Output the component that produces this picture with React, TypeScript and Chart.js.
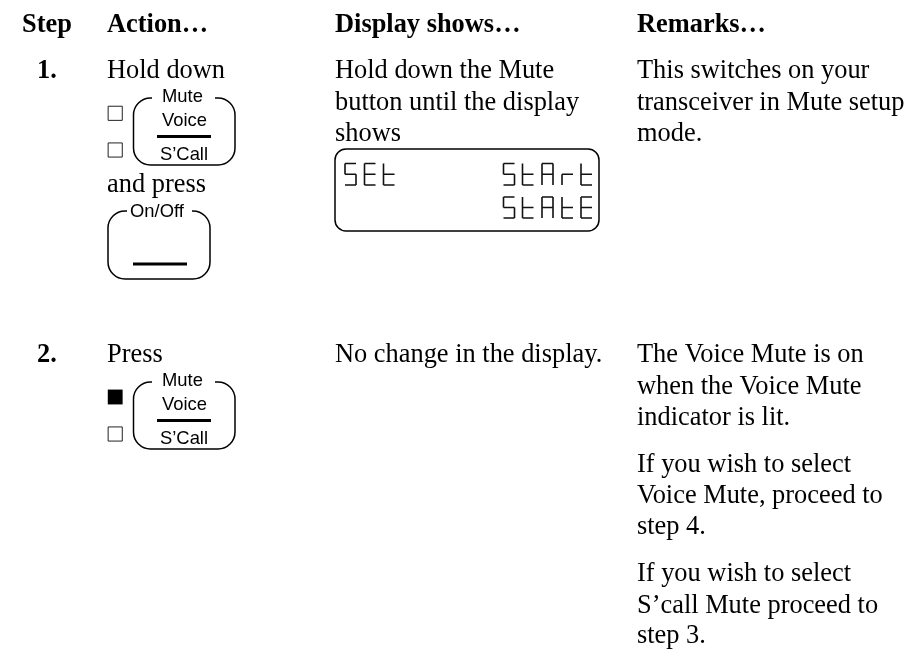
import React, { useEffect, useRef } from "react";
import { Chart, registerables } from "chart.js";

Chart.register(...registerables);

const SERIF = '"Liberation Serif", "Times New Roman", serif';
const SANS = '"Liberation Sans", Arial, sans-serif';

// x, baseline y, text
type T = [number, number, string];
const headings: T[] = [
  [22, 32, "Step"], [107, 32, "Action…"], [335, 32, "Display shows…"], [637, 32, "Remarks…"],
  [37, 78, "1."], [37, 362, "2."],
];
const body: T[] = [
  [107, 78, "Hold down"], [107, 192, "and press"], [107, 362, "Press"],
  [335, 78, "Hold down the Mute"], [335, 110, "button until the display"], [335, 141, "shows"],
  [335, 362, "No change in the display."],
  [637, 78, "This switches on your"], [637, 110, "transceiver in Mute setup"], [637, 141, "mode."],
  [637, 362, "The Voice Mute is on"], [637, 394, "when the Voice Mute"], [637, 425, "indicator is lit."],
  [637, 472, "If you wish to select"], [637, 503, "Voice Mute, proceed to"], [637, 534, "step 4."],
  [637, 581, "If you wish to select"], [637, 613, "S’call Mute proceed to"], [637, 643, "step 3."],
];
const keyLabels: T[] = [
  [162, 102, "Mute"], [162, 126, "Voice"], [160, 160, "S’Call"], [130, 217, "On/Off"],
  [162, 386, "Mute"], [162, 410, "Voice"], [160, 444, "S’Call"],
];
const emptyLeds = [{ x: 115.2, y: 113.3 }, { x: 115.2, y: 150 }, { x: 115.2, y: 434 }];
const litLeds = [{ x: 115.2, y: 397 }];

// left, top, right, bottom, radius, gap start, gap end (gap in the top edge)
const keys = [
  [133.5, 98, 235, 165, 17, 152, 215],
  [108, 211, 210, 279, 17, 127, 192],
  [133.5, 382, 235, 449, 17, 152, 215],
];
const displayBox = [335, 149, 599, 231, 11, 0, 0];
const keyBars = [
  [157, 211, 136.5], [133, 187, 264], [157, 211, 420.5],
];

// seven-segment lettering
const segments: Record<string, string> = { S: "afgcd", E: "afged", t: "fged", A: "abcefg", r: "eg" };
const segText: [string, number[], number, number][] = [
  ["SEt", [345, 364.5, 383.5], 163.5, 185],
  ["StArt", [503.5, 522.5, 542, 562, 581], 163.5, 185],
  ["StAtE", [503.5, 522.5, 542, 562, 581], 197, 218],
];

function segmentPoints() {
  const pts: ({ x: number; y: number } | { x: number; y: null })[] = [];
  segText.forEach(([word, xs, top, bottom]) => {
    [...word].forEach((ch, i) => {
      const l = xs[i], r = l + 11, m = (top + bottom) / 2;
      const segs: Record<string, number[]> = {
        a: [l, top, r, top], b: [r, top, r, m], c: [r, m, r, bottom], d: [l, bottom, r, bottom],
        e: [l, m, l, bottom], f: [l, top, l, m], g: [l, m, r, m],
      };
      [...segments[ch]].forEach((s) => {
        const [x1, y1, x2, y2] = segs[s];
        pts.push({ x: x1, y: y1 }, { x: x2, y: y2 }, { x: x2, y: null });
      });
    });
  });
  return pts;
}

const page = {
  id: "page",
  afterDatasetsDraw(chart: any) {
    const { ctx, scales } = chart;
    const X = (v: number) => scales.x.getPixelForValue(v);
    const Y = (v: number) => scales.y.getPixelForValue(v);
    ctx.save();
    ctx.strokeStyle = "#000";
    ctx.lineWidth = 1.5;
    [...keys, displayBox].forEach(([l, t, r, b, rad, g1, g2]) => {
      ctx.beginPath();
      ctx.moveTo(X(g2 || l + rad), Y(t));
      ctx.arcTo(X(r), Y(t), X(r), Y(b), rad);
      ctx.arcTo(X(r), Y(b), X(l), Y(b), rad);
      ctx.arcTo(X(l), Y(b), X(l), Y(t), rad);
      ctx.arcTo(X(l), Y(t), X(r), Y(t), rad);
      if (g1) ctx.lineTo(X(g1), Y(t));
      else ctx.closePath();
      ctx.stroke();
    });
    ctx.fillStyle = "#000";
    ctx.textBaseline = "alphabetic";
    ctx.textAlign = "left";
    const put = (list: T[], font: string) => {
      ctx.font = font;
      list.forEach(([x, y, s]) => ctx.fillText(s, X(x), Y(y)));
    };
    put(headings, `bold 26.4px ${SERIF}`);
    put(body, `26.4px ${SERIF}`);
    put(keyLabels, `18.4px ${SANS}`);
    ctx.restore();
  },
};

export default function App() {
  const ref = useRef<HTMLCanvasElement>(null);
  useEffect(() => {
    const barPoints: any[] = [];
    keyBars.forEach(([a, b, y]) => barPoints.push({ x: a, y }, { x: b, y }, { x: b, y: null }));
    const chart = new Chart(ref.current!, {
      type: "scatter",
      data: {
        datasets: [
          { data: emptyLeds, pointStyle: "rect", pointRadius: 10, backgroundColor: "#fff", borderColor: "#222", borderWidth: 1, clip: false } as any,
          { data: litLeds, pointStyle: "rect", pointRadius: 10.5, backgroundColor: "#000", borderColor: "#000", borderWidth: 0, clip: false } as any,
          { data: barPoints, showLine: true, spanGaps: false, pointRadius: 0, borderColor: "#000", borderWidth: 3.2, clip: false } as any,
          { data: segmentPoints(), showLine: true, spanGaps: false, pointRadius: 0, borderColor: "#111", borderWidth: 1.6, clip: false } as any,
        ],
      },
      options: {
        animation: false,
        responsive: false,
        layout: { padding: 0, autoPadding: false },
        plugins: { legend: { display: false }, tooltip: { enabled: false } },
        scales: {
          x: { type: "linear", min: 0, max: 907, display: false },
          y: { type: "linear", min: 0, max: 649, reverse: true, display: false },
        },
      },
      plugins: [page],
    });
    return () => chart.destroy();
  }, []);
  return (
    <canvas
      ref={ref}
      width={907}
      height={649}
      style={{ position: "fixed", left: 0, top: 0, width: 907, height: 649, background: "#fff" }}
    />
  );
}
